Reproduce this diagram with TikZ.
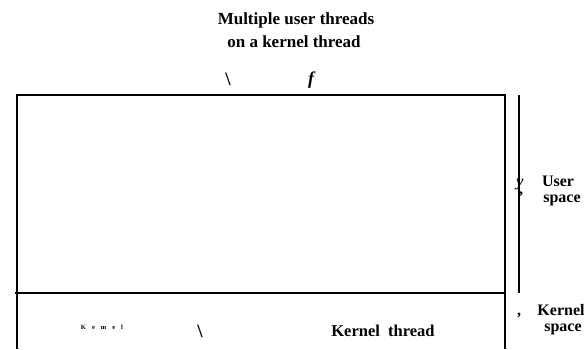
\documentclass[tikz,border=0pt]{standalone}
\usepackage{fontspec}
\setmainfont{Liberation Serif}
\begin{document}
\begin{tikzpicture}[x=1pt,y=-1pt,
  frame/.style={line width=1.3pt},
  bigtxt/.style={font=\fontsize{17}{20}\selectfont\bfseries, inner sep=0pt, anchor=base},
  midtxt/.style={font=\fontsize{16}{18}\selectfont\bfseries, inner sep=0pt, anchor=base},
  marktxt/.style={font=\fontsize{19}{20}\selectfont\bfseries, inner sep=0pt},
  tinytxt/.style={font=\fontsize{6.5}{7}\selectfont\bfseries, inner sep=0pt, anchor=base}]
\useasboundingbox (0,0) rectangle (584,349);
% frame
\coordinate (tl) at (17,95);
\coordinate (tr) at (505,95);
\coordinate (ml) at (15,293);
\coordinate (mr) at (505,293);
\coordinate (bl) at (17,349);
\coordinate (br) at (505,349);
\coordinate (st) at (519,95);
\coordinate (sb) at (519,293);
\draw[frame] (bl) -- (tl) -- (tr) -- (br);
\draw[frame] (ml) -- (mr);
\draw[frame] (st) -- (sb);
% title
\node[bigtxt] (t1) at (296,24) {Multiple user threads};
\node[bigtxt] (t2) at (294,47) {on a kernel thread};
\node[marktxt] (m1) at (228,79) {\textbackslash};
\node[marktxt, font=\fontsize{18}{20}\selectfont\bfseries\itshape] (m2) at (311,80) {f};
% user space
\node[midtxt, font=\fontsize{16}{18}\selectfont\bfseries\itshape] (uy) at (520,186) {y};
\node[midtxt] (uq) at (521,202) {'};
\node[midtxt] (u1) at (558,186) {User};
\node[midtxt] (u2) at (562,202) {space};
% kernel space
\node[midtxt] (kc) at (519,315) {,};
\node[midtxt] (k1) at (561,315) {Kernel};
\node[midtxt] (k2) at (563,331) {space};
% kernel thread
\node[tinytxt] (km) at (102,329) {K\hspace{6pt}e\hspace{6pt}m\hspace{6pt}e\hspace{6pt}l};
\node[marktxt] (kb) at (200,331) {\textbackslash};
\node[midtxt, font=\fontsize{16.5}{18}\selectfont\bfseries] (kt) at (383,336) {Kernel\ \ thread};
\end{tikzpicture}
\end{document}
